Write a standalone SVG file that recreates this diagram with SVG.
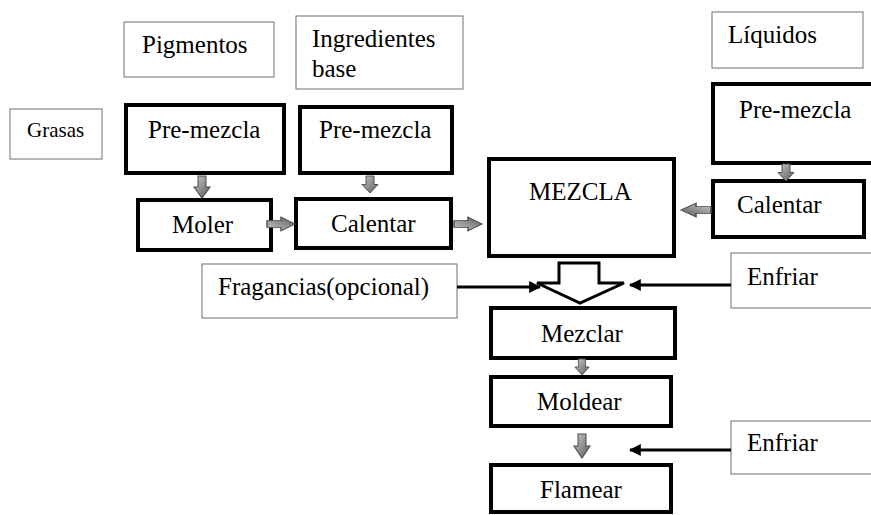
<svg xmlns="http://www.w3.org/2000/svg" width="871" height="515" viewBox="0 0 871 515">
<defs>
<style>
.thin{fill:#fff;stroke:#6e6e6e;stroke-width:1}
.thick{fill:#fff;stroke:#000;stroke-width:4}
text{font-family:'Liberation Serif','DejaVu Serif',serif;fill:#000}
.t{font-size:25px}
.ts{font-size:21px}
.ga{fill:url(#gg);stroke:#4a4a4a;stroke-width:1}
.bl{stroke:#000;stroke-width:3;fill:none}
</style>
<linearGradient id="gg" x1="0" y1="0" x2="1" y2="1">
<stop offset="0" stop-color="#c8c8c8"/>
<stop offset="1" stop-color="#5a5a5a"/>
</linearGradient>
<marker id="ah" viewBox="0 0 10 10" refX="9" refY="5" markerWidth="4" markerHeight="4" orient="auto" markerUnits="strokeWidth">
<path d="M0,0 L10,5 L0,10 Z" fill="#000"/>
</marker>
<path id="av" d="M-4,0 H4 V10 H8 L0,20 L-8,10 H-4 Z"/>
</defs>

<g font-family="Liberation Serif, serif">
<g id="pigmentos"><rect class="thin" x="124" y="22" width="150" height="55"/><text class="t" x="142" y="53">Pigmentos</text></g>
<g id="grasas"><rect class="thin" x="10" y="109" width="92" height="50"/><text class="ts" x="27" y="137">Grasas</text></g>
<g id="ingredientes"><rect class="thin" x="296" y="16" width="167" height="73"/><text class="t" x="312" y="47">Ingredientes</text><text class="t" x="312" y="77">base</text></g>
<g id="liquidos"><rect class="thin" x="712" y="12" width="151" height="56"/><text class="t" x="728" y="43">Líquidos</text></g>
<g id="fragancias"><rect class="thin" x="202" y="264" width="255" height="54"/><text class="t" x="218" y="295">Fragancias(opcional)</text></g>
<g id="enfriar1"><rect class="thin" x="731" y="253" width="150" height="55"/><text class="t" x="747" y="285">Enfriar</text></g>
<g id="enfriar2"><rect class="thin" x="731" y="421" width="150" height="53"/><text class="t" x="747" y="451">Enfriar</text></g>

<g id="premezcla1"><rect class="thick" x="126" y="105" width="158" height="68"/><text class="t" x="148" y="138">Pre-mezcla</text></g>
<g id="moler"><rect class="thick" x="138" y="200" width="133" height="50"/><text class="t" x="172" y="233">Moler</text></g>
<g id="premezcla2"><rect class="thick" x="300" y="107" width="152" height="66"/><text class="t" x="319" y="138">Pre-mezcla</text></g>
<g id="calentar1"><rect class="thick" x="296" y="199" width="155" height="49"/><text class="t" x="331" y="232">Calentar</text></g>
<g id="mezcla"><rect class="thick" x="489" y="159" width="185" height="97"/><text class="t" x="529" y="200">MEZCLA</text></g>
<g id="premezcla3"><rect class="thick" x="713" y="84" width="170" height="79"/><text class="t" x="739" y="118">Pre-mezcla</text></g>
<g id="calentar2"><rect class="thick" x="713" y="181" width="151" height="56"/><text class="t" x="737" y="213">Calentar</text></g>
<g id="mezclar"><rect class="thick" x="491" y="308" width="184" height="50"/><text class="t" x="541" y="342">Mezclar</text></g>
<g id="moldear"><rect class="thick" x="491" y="377" width="180" height="49"/><text class="t" x="537" y="410">Moldear</text></g>
<g id="flamear"><rect class="thick" x="491" y="465" width="180" height="47"/><text class="t" x="540" y="498">Flamear</text></g>
</g>

<g id="connectors">
<use href="#av" class="ga" transform="translate(202,176) scale(1,1.1)"/>
<use href="#av" class="ga" transform="translate(370,176) scale(1,0.85)"/>
<use href="#av" class="ga" transform="translate(786,164) scale(1,0.85)"/>
<use href="#av" class="ga" transform="translate(582,359) scale(0.9,0.8)"/>
<use href="#av" class="ga" transform="translate(582,434) scale(1,1.2)"/>
<use href="#av" class="ga" transform="translate(267,224) rotate(-90) scale(0.85,1.4)"/>
<use href="#av" class="ga" transform="translate(454,224) rotate(-90) scale(0.85,1.4)"/>
<use href="#av" class="ga" transform="translate(711,210) rotate(90) scale(0.85,1.5)"/>
<path d="M559,263 H599 V283 H624 L580,303 L537,283 H559 Z" fill="#fff" stroke="#000" stroke-width="3" stroke-linejoin="miter"/>
<line class="bl" x1="457" y1="287" x2="540" y2="287" marker-end="url(#ah)"/>
<line class="bl" x1="731" y1="285" x2="630" y2="285" marker-end="url(#ah)"/>
<line class="bl" x1="731" y1="450" x2="630" y2="450" marker-end="url(#ah)"/>
</g>
</svg>
